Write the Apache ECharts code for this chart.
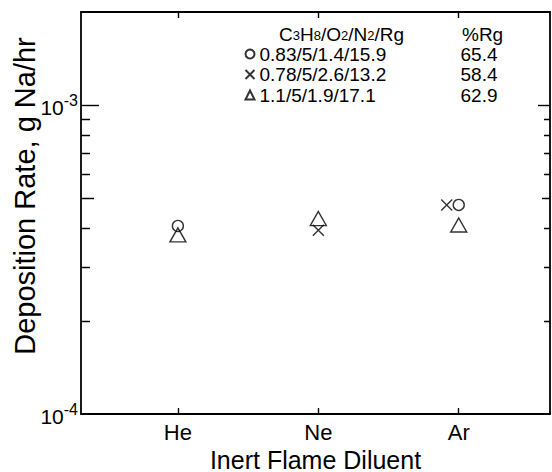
<!DOCTYPE html>
<html><head><meta charset="utf-8">
<script src="https://cdn.jsdelivr.net/npm/echarts@6/dist/echarts.min.js"></script>
<style>html,body{margin:0;padding:0;background:#fff}#c{width:552px;height:472px}</style>
</head><body><div id="c"></div>
<script>
const categories = ['He', 'Ne', 'Ar'];
const seriesNames = ['0.83/5/1.4/15.9', '0.78/5/2.6/13.2', '1.1/5/1.9/17.1'];
const pctRg = ['65.4', '58.4', '62.9'];
const circleVals = [4.06e-4, null, 4.75e-4];
const crossVals = [null, 3.93e-4, 4.75e-4];
const triangleVals = [3.80e-4, 4.29e-4, 4.09e-4];
const yLabelTicks = [1e-4, 1e-3];
const yMajorTicks = [1e-3];
const yMidTicks = [5e-4];
const yMinorTicks = [2e-4, 3e-4, 4e-4, 6e-4, 7e-4, 8e-4, 9e-4];
const yMin = 1e-4, yMax = 2e-3;
const xMin = 0.31, xMax = 3.65;
const catPos = categories.map((c, i) => i + 1);

// y values are placed on a decade (log10) value scale
const L = v => Math.log10(v);
const FONT = 'Liberation Sans, Arial, Helvetica, sans-serif';

function toData(vals, offsets) {
  const out = [];
  vals.forEach((v, i) => {
    if (v == null) return;
    const item = { value: [catPos[i], L(v)] };
    if (offsets && offsets[i]) item.symbolOffset = offsets[i];
    out.push(item);
  });
  return out;
}

// inward tick marks on both frame sides: [x edge, log value, tick length, direction]
const tickData = [];
yMinorTicks.forEach(v => { tickData.push([xMin, L(v), 9, 1]); tickData.push([xMax, L(v), 6, -1]); });
yMidTicks.forEach(v => { tickData.push([xMin, L(v), 13, 1]); tickData.push([xMax, L(v), 8, -1]); });

const hollow = { color: 'rgba(0,0,0,0)', borderColor: '#000', borderWidth: 1.4 };

const option = {
  animation: false,
  textStyle: { fontFamily: FONT, color: '#000' },
  grid: { left: 81, top: 12, right: 2, bottom: 58, containLabel: false, outerBoundsMode: 'none' },
  title: [
    { left: 274, top: 21, text: '{n|C}{s|3}{n|H}{s|8}{n|/O}{s|2}{n|/N}{s|2}{n|/Rg}',
      textStyle: { fontWeight: 'normal', rich: {
        n: { fontSize: 19, lineHeight: 16, fontWeight: 'normal', fontFamily: FONT, color: '#000' },
        s: { fontSize: 13, lineHeight: 13, verticalAlign: 'bottom', fontWeight: 'normal', fontFamily: FONT, color: '#000' } } } },
    { left: 457, top: 21, text: '%Rg', textStyle: { fontSize: 19, lineHeight: 16, fontWeight: 'normal', fontFamily: FONT, color: '#000' } }
  ],
  legend: {
    orient: 'vertical', left: 239.5, top: 39.5, itemWidth: 9, itemHeight: 9, itemGap: 1.5,
    selectedMode: false,
    formatter: name => `{a|${name}}{b|${pctRg[seriesNames.indexOf(name)]}}`,
    textStyle: { fontSize: 19, rich: {
      a: { width: 201, fontSize: 19, lineHeight: 20, fontFamily: FONT, color: '#000' },
      b: { fontSize: 19, lineHeight: 20, fontFamily: FONT, color: '#000' } } },
    data: seriesNames
  },
  xAxis: [
    { type: 'value', position: 'bottom', min: xMin, max: xMax,
      axisLine: { show: true, onZero: false, lineStyle: { color: '#000', width: 1.8 } },
      axisTick: { show: true, inside: true, length: 6, customValues: catPos, lineStyle: { color: '#000', width: 1.4 } },
      axisLabel: { show: true, customValues: catPos, formatter: v => categories[Math.round(v) - 1], fontSize: 22, color: '#000', margin: 7, fontFamily: FONT },
      splitLine: { show: false },
      name: 'Inert Flame Diluent', nameLocation: 'middle', nameGap: 31,
      nameTextStyle: { fontSize: 25, lineHeight: 25, color: '#000', fontFamily: FONT } },
    { type: 'value', position: 'top', min: xMin, max: xMax,
      axisLine: { show: true, onZero: false, lineStyle: { color: '#000', width: 1.8 } },
      axisTick: { show: true, inside: true, length: 6, customValues: catPos, lineStyle: { color: '#000', width: 1.4 } },
      axisLabel: { show: false }, splitLine: { show: false } }
  ],
  yAxis: [
    { type: 'value', position: 'left', min: L(yMin), max: L(yMax),
      axisLine: { show: true, onZero: false, lineStyle: { color: '#000', width: 1.8 } },
      axisTick: { show: true, inside: true, length: 18, customValues: yMajorTicks.map(L), lineStyle: { color: '#000', width: 1.4 } },
      axisLabel: { show: true, customValues: yLabelTicks.map(L), margin: 3,
        formatter: v => `{b|10}{s|${Math.round(v)}}`,
        rich: { b: { fontSize: 21, lineHeight: 26, fontFamily: FONT, color: '#000', verticalAlign: 'bottom' },
                s: { fontSize: 16, fontFamily: FONT, color: '#000', verticalAlign: 'top' } } },
      splitLine: { show: false } },
    { type: 'value', position: 'right', min: L(yMin), max: L(yMax),
      axisLine: { show: true, onZero: false, lineStyle: { color: '#000', width: 1.8 } },
      axisTick: { show: true, inside: true, length: 12, customValues: yMajorTicks.map(L), lineStyle: { color: '#000', width: 1.4 } },
      axisLabel: { show: false }, splitLine: { show: false } }
  ],
  graphic: [
    { type: 'text', x: 25, y: 196, rotation: Math.PI / 2,
      style: { text: 'Deposition Rate, g Na/hr', fontSize: 29, fontFamily: FONT, fill: '#000', align: 'center', verticalAlign: 'middle' } }
  ],
  series: [
    { name: seriesNames[0], type: 'scatter', xAxisIndex: 0, yAxisIndex: 0,
      symbol: 'circle', symbolSize: 11, itemStyle: hollow, data: toData(circleVals) },
    { name: seriesNames[1], type: 'scatter', xAxisIndex: 0, yAxisIndex: 0,
      symbol: 'path://M0,0L10,10M0,10L10,0', symbolSize: 11, itemStyle: hollow,
      data: toData(crossVals, [null, null, [-12, 0]]) },
    { name: seriesNames[2], type: 'scatter', xAxisIndex: 0, yAxisIndex: 0,
      symbol: 'triangle', symbolSize: [16, 14], itemStyle: hollow, data: toData(triangleVals) },
    { type: 'custom', silent: true, xAxisIndex: 0, yAxisIndex: 0, clip: false, z: 3,
      tooltip: { show: false },
      renderItem: (params, api) => {
        const p = api.coord([api.value(0), api.value(1)]);
        const len = api.value(2), dir = api.value(3);
        const y = Math.round(p[1]) + 0.5;
        return { type: 'line', shape: { x1: p[0], y1: y, x2: p[0] + dir * len, y2: y },
                 style: { stroke: '#000', lineWidth: 1.5 } };
      },
      data: tickData }
  ]
};

const chart = echarts.init(document.getElementById('c'), null, { renderer: 'svg' });
chart.setOption(option);
</script>
</body></html>
